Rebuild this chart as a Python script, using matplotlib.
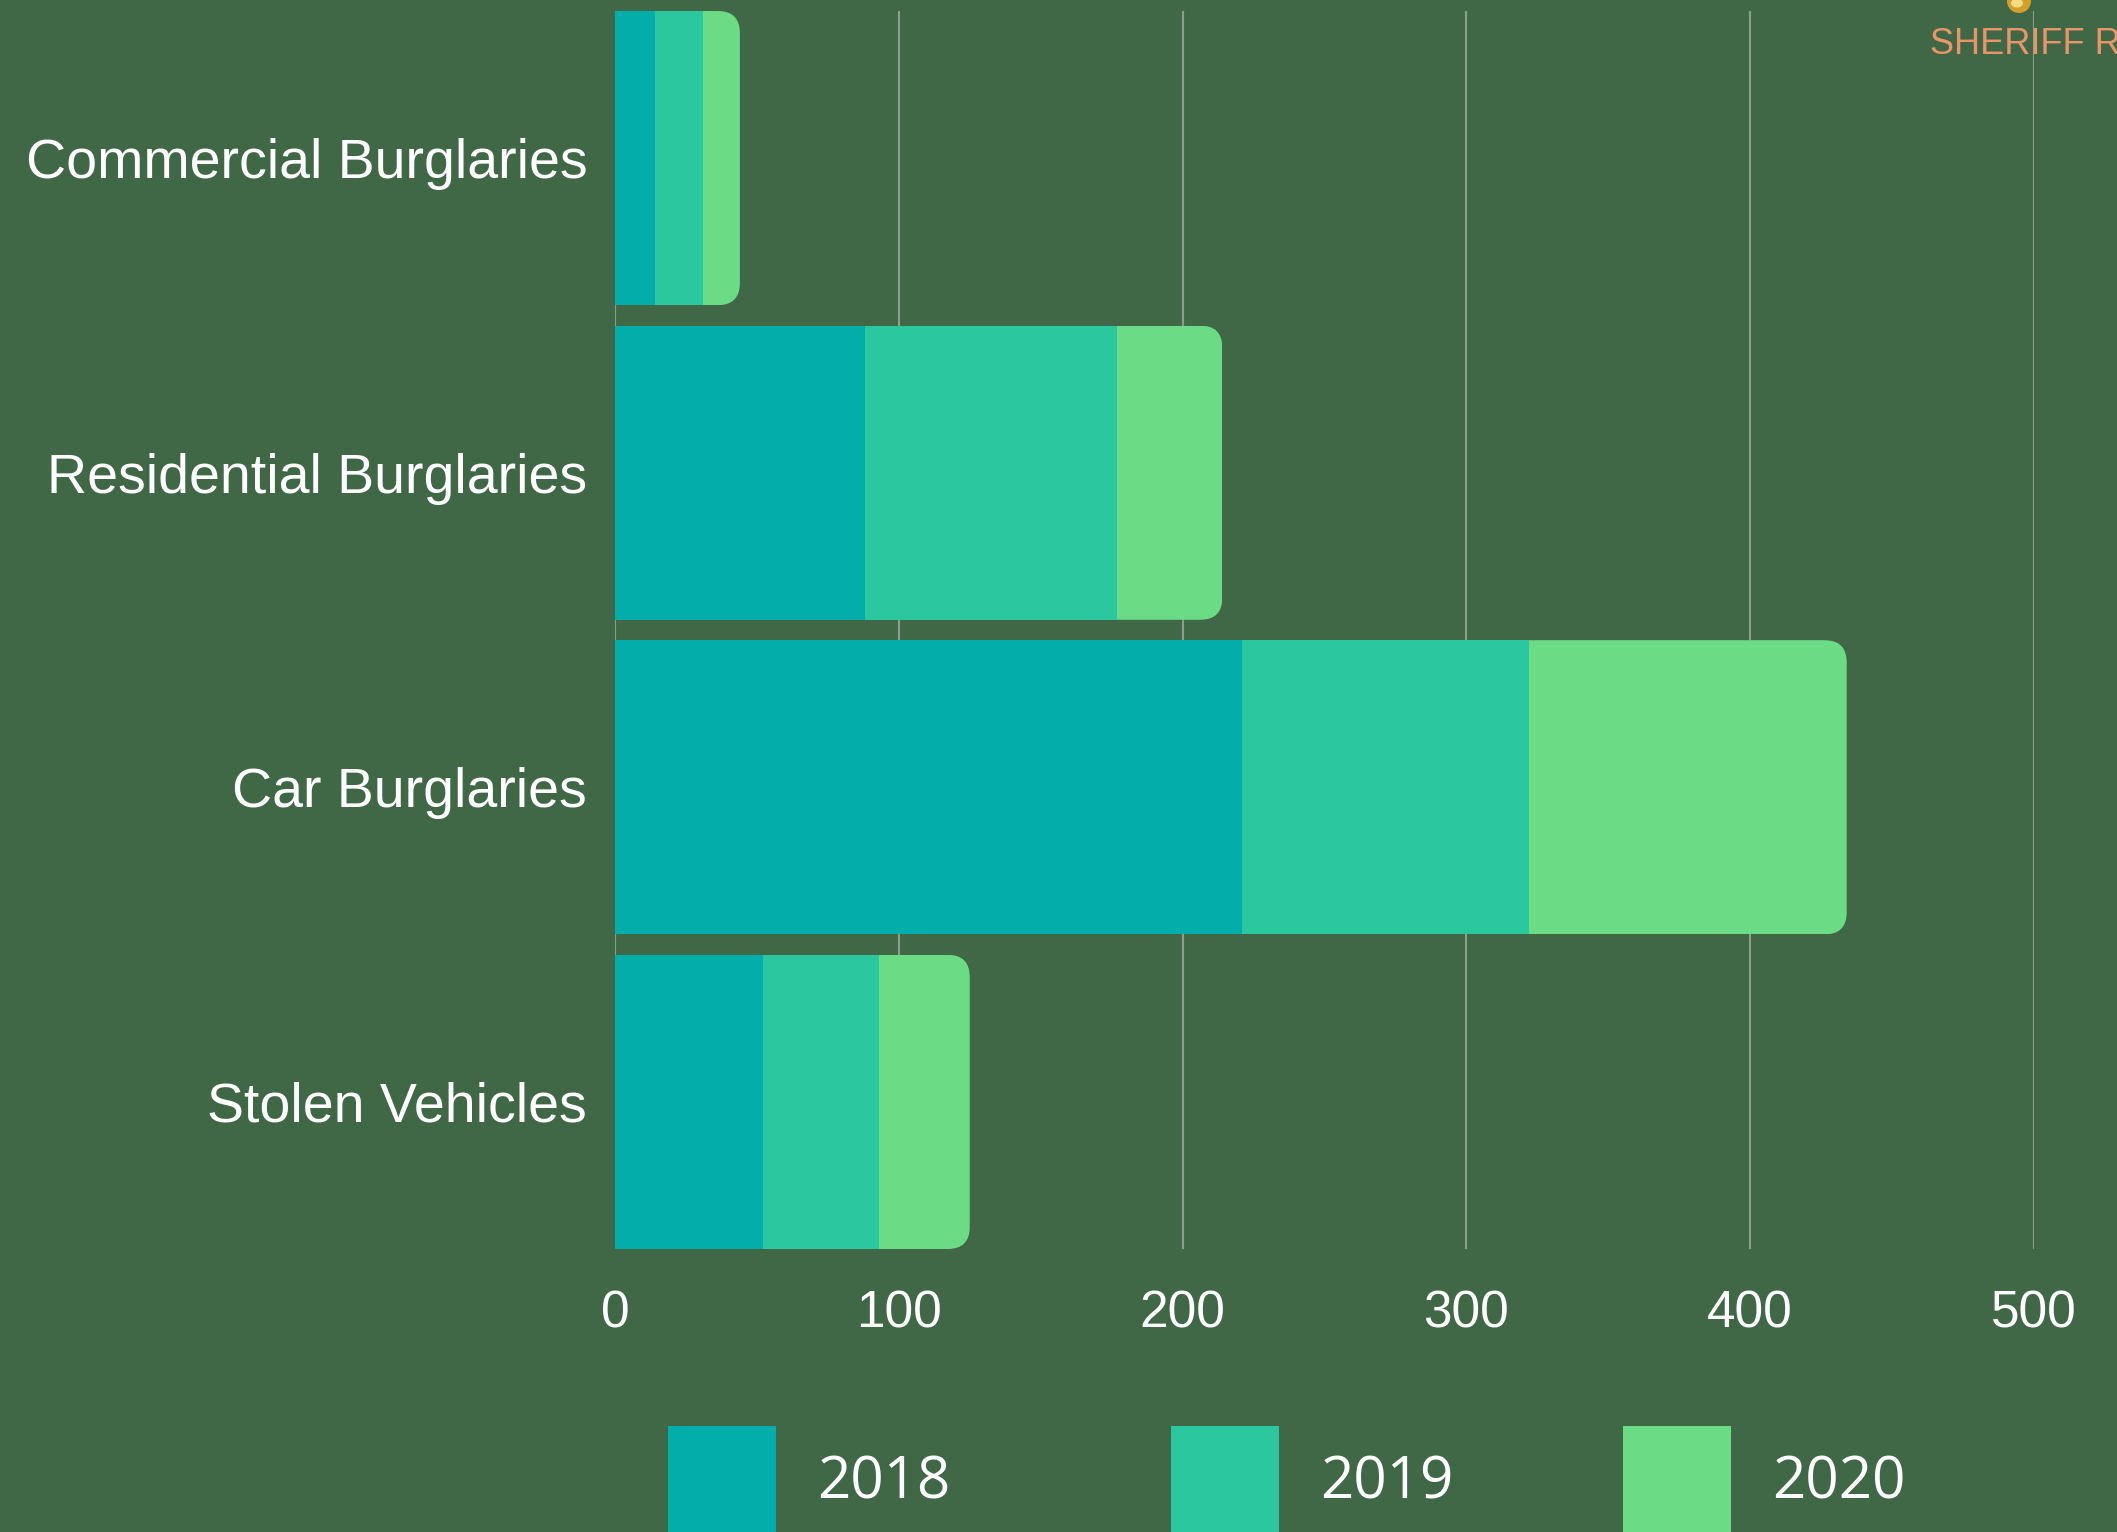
import numpy as np
import matplotlib
matplotlib.use('Agg')
import matplotlib.pyplot as plt
from matplotlib.patches import FancyBboxPatch, Patch, Ellipse

plt.rcParams['font.family'] = ['Liberation Sans', 'DejaVu Sans']

# data
categories = ['Commercial Burglaries', 'Residential Burglaries', 'Car Burglaries', 'Stolen Vehicles']
years = ['2018', '2019', '2020']
v2018 = [14, 88, 221, 52]
v2019 = [17, 89, 101, 41]
v2020 = [13, 37, 112, 32]
xticks = [0, 100, 200, 300, 400, 500]

BG = '#406846'
COLORS = ['#03ada9', '#2bc79e', '#6bdb86']
GRID = '#86a08c'

W, H = 2117, 1532
fig = plt.figure(figsize=(W / 100, H / 100), dpi=100, facecolor=BG)
ax = fig.add_axes([615 / W, 1 - 1249 / H, (2034 - 615) / W, (1249 - 11) / H])
ax.set_facecolor(BG)

y = np.arange(len(categories))
h = 0.935
left19 = np.array(v2018)
left20 = left19 + np.array(v2019)

ax.barh(y, v2018, height=h, color=COLORS[0], linewidth=0, zorder=2)
ax.barh(y, v2019, height=h, left=left19, color=COLORS[1], linewidth=0, zorder=2)
bars20 = ax.barh(y, v2020, height=h, left=left20, color=COLORS[2], linewidth=0, zorder=2)

# round only the right end of each stacked bar
r = 7.8
aspect = 0.07 / r
for rect in bars20:
    clip = FancyBboxPatch((rect.get_x() - 20, rect.get_y()), rect.get_width() + 20, rect.get_height(),
                          boxstyle=f'round,pad=0,rounding_size={r}', mutation_aspect=aspect,
                          transform=ax.transData, facecolor='none', edgecolor='none')
    rect.set_clip_path(clip)

ax.set_xlim(0, 500)
ax.set_ylim(3 + h / 2, -h / 2)
ax.set_xticks(xticks)
ax.set_yticks(y)
ax.set_yticklabels(categories)
ax.tick_params(axis='x', length=0, pad=29, labelsize=37, labelcolor='white')
ax.tick_params(axis='y', length=0, pad=20, labelsize=40, labelcolor='white')
ax.grid(axis='x', color=GRID, linewidth=1.5)
ax.set_axisbelow(True)
for s in ax.spines.values():
    s.set_visible(False)

# one legend entry per year, placed like the original (uneven spacing)
leg_x = [668, 1171, 1623]
for yr, c, lx in zip(years, COLORS, leg_x):
    fig.legend([Patch(facecolor=c, edgecolor='none')], [yr], loc='upper left',
               bbox_to_anchor=(lx / W, 1 - 1426 / H), frameon=False,
               prop={'family': ['Open Sans', 'DejaVu Sans'], 'size': 42},
               handlelength=1.85, handleheight=2.53, handletextpad=0.7,
               borderpad=0, borderaxespad=0, labelcolor='white')

# header fragment cut at the edge
fig.text(1930 / W, 1 - 44 / H, 'SHERIFF R', color='#e8956a', fontsize=26, va='center', ha='left')
fig.add_artist(Ellipse((2019 / W, 1 - 1 / H), 24 / W, 24 / H, transform=fig.transFigure,
                       facecolor='#d4a02a', edgecolor='none'))
fig.add_artist(Ellipse((2017 / W, 1 - 3 / H), 12 / W, 9 / H, transform=fig.transFigure,
                       facecolor='#f3dd86', edgecolor='none'))

fig.savefig('out.png', dpi=100, facecolor=BG)
